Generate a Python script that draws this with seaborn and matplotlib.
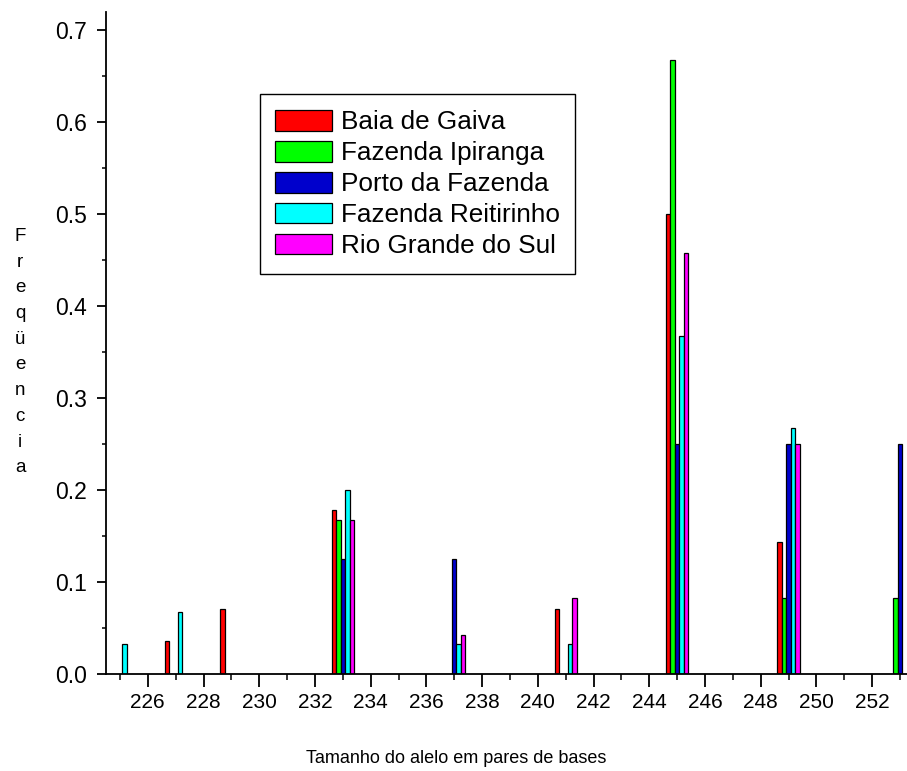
import matplotlib

matplotlib.use("Agg")
import matplotlib.pyplot as plt
import numpy as np
import pandas as pd
import seaborn as sns
from matplotlib.ticker import MultipleLocator


# allele sizes (bp) and allele frequencies per population
alleles = [225, 227, 229, 233, 237, 241, 245, 249, 253]
populations = [
    "Baia de Gaiva",
    "Fazenda Ipiranga",
    "Porto da Fazenda",
    "Fazenda Reitirinho",
    "Rio Grande do Sul",
]
baia_de_gaiva = [0.0, 0.036, 0.071, 0.178, 0.0, 0.071, 0.500, 0.143, 0.0]
fazenda_ipiranga = [0.0, 0.0, 0.0, 0.167, 0.0, 0.0, 0.667, 0.083, 0.083]
porto_da_fazenda = [0.0, 0.0, 0.0, 0.125, 0.125, 0.0, 0.250, 0.250, 0.250]
fazenda_reitirinho = [0.033, 0.067, 0.0, 0.200, 0.033, 0.033, 0.367, 0.267, 0.0]
rio_grande_do_sul = [0.0, 0.0, 0.0, 0.167, 0.042, 0.083, 0.458, 0.250, 0.0]

colors = ["#ff0000", "#00ff00", "#0000cc", "#00ffff", "#ff00ff"]

y_ticks = [0.0, 0.1, 0.2, 0.3, 0.4, 0.5, 0.6, 0.7]
x_ticks = list(range(226, 253, 2))


def build_frame() -> pd.DataFrame:
    series = [baia_de_gaiva, fazenda_ipiranga, porto_da_fazenda,
              fazenda_reitirinho, rio_grande_do_sul]
    rows = []
    for pop, values in zip(populations, series):
        for allele, freq in zip(alleles, values):
            rows.append({"allele": allele, "freq": freq, "pop": pop})
    df = pd.DataFrame(rows)
    # alleles absent from a population have no bar at all
    return df[df["freq"] > 0]


def main() -> None:
    sns.set_style("ticks")
    plt.rcParams["font.family"] = ["Liberation Sans", "DejaVu Sans"]
    plt.rcParams["text.color"] = "black"

    df = build_frame()

    fig = plt.figure(figsize=(9.07, 7.71), dpi=100)
    ax = fig.add_axes([106 / 907, 97 / 771, 801 / 907, 662.4 / 771])

    sns.barplot(
        data=df, x="allele", y="freq", hue="pop", hue_order=populations,
        palette=dict(zip(populations, colors)), native_scale=True,
        width=0.4, saturation=1, edgecolor="black", linewidth=0.9,
        errorbar=None, ax=ax,
    )

    ax.set_xlim(224.5, 253.25)
    ax.set_ylim(0, 0.72)
    ax.set_xticks(x_ticks)
    ax.set_xticklabels([str(t) for t in x_ticks])
    ax.xaxis.set_minor_locator(MultipleLocator(2, offset=1))
    ax.set_yticks(y_ticks)
    ax.set_yticklabels([f"{t:.1f}" for t in y_ticks])
    ax.yaxis.set_minor_locator(MultipleLocator(0.05))

    ax.tick_params(axis="x", which="major", direction="out", length=9.5,
                   width=1.3, labelsize=15, pad=4, colors="black")
    ax.tick_params(axis="x", which="minor", direction="out", length=4.5,
                   width=1.3)
    ax.tick_params(axis="y", which="major", direction="out", length=6.5,
                   width=1.3, labelsize=16.5, pad=7, colors="black")
    ax.tick_params(axis="y", which="minor", direction="out", length=3,
                   width=1.3)

    sns.despine(ax=ax)
    for side in ("left", "bottom"):
        ax.spines[side].set_linewidth(1.3)
        ax.spines[side].set_color("black")

    ax.set_xlabel("Tamanho do alelo em pares de bases", fontsize=13,
                  color="black")
    ax.xaxis.set_label_coords(0.437, -0.115)
    ax.set_ylabel("\n".join("Freqüencia"), rotation=0, fontsize=13.5,
                  linespacing=1.67, ha="center", va="center", color="black")
    ax.yaxis.set_label_coords(-0.107, 0.486)

    leg = ax.legend(
        loc="upper left", bbox_to_anchor=(0.192, 0.875), borderaxespad=0,
        fontsize=18.8, frameon=True, fancybox=False, framealpha=1,
        edgecolor="black", handlelength=2.15, handleheight=0.84,
        handletextpad=0.35, labelspacing=0.25, borderpad=0.6, title=None,
    )
    leg.get_frame().set_linewidth(1.0)

    fig.savefig("out.png", dpi=100)
    plt.close(fig)


if __name__ == "__main__":
    main()
